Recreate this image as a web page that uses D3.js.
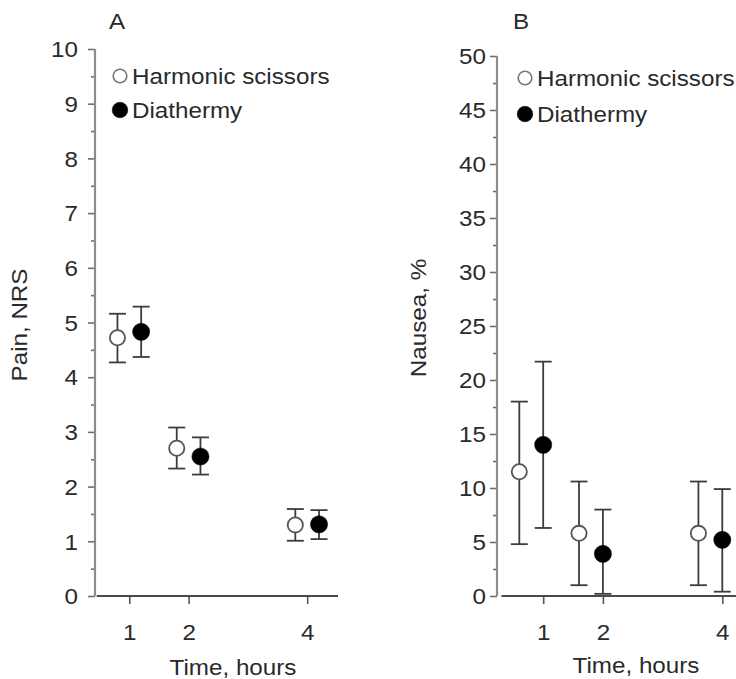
<!DOCTYPE html>
<html>
<head>
<meta charset="utf-8">
<script src="https://cdn.jsdelivr.net/npm/d3@7"></script>
<style>
  body { margin: 0; background: #fff; }
  text { font-family: "Liberation Sans", Arial, Helvetica, sans-serif; fill: #2a2a2a; }
</style>
</head>
<body>
<svg id="chart" width="736" height="679"></svg>
<script>
// ---- data ----
const hours = [1, 2, 4];
const seriesNames = ["Harmonic scissors", "Diathermy"];

// Pain, NRS (mean with lower / upper error limits)
const painHarmonic     = [4.72, 2.70, 1.30];
const painHarmonicLow  = [4.27, 2.33, 1.01];
const painHarmonicHigh = [5.16, 3.08, 1.59];
const painDiathermy     = [4.83, 2.55, 1.31];
const painDiathermyLow  = [4.37, 2.22, 1.04];
const painDiathermyHigh = [5.29, 2.90, 1.57];

// Nausea, % (mean with lower / upper error limits)
const nauseaHarmonic     = [11.5, 5.8, 5.8];
const nauseaHarmonicLow  = [4.8, 1.0, 1.0];
const nauseaHarmonicHigh = [18.0, 10.6, 10.6];
const nauseaDiathermy     = [14.0, 3.9, 5.2];
const nauseaDiathermyLow  = [6.3, 0.2, 0.4];
const nauseaDiathermyHigh = [21.7, 8.0, 9.9];

const painTicks = [0, 1, 2, 3, 4, 5, 6, 7, 8, 9, 10];
const painMinorTicks = [0.5, 1.5, 2.5, 3.5, 4.5, 5.5, 6.5, 7.5, 8.5, 9.5];
const nauseaTicks = [0, 5, 10, 15, 20, 25, 30, 35, 40, 45, 50];
const nauseaMinorTicks = [2.5, 7.5, 12.5, 17.5, 22.5, 27.5, 32.5, 37.5, 42.5, 47.5];
const hourTicks = hours;

// ---- drawing ----
const svg = d3.select("#chart");
const SX = 1.1;           // wide lettering
const FONT = 22;

function label(g, x, y, str, anchor, rotate) {
  return g.append("text")
    .attr("transform", `translate(${x},${y})${rotate ? " rotate(-90)" : ""} scale(${SX},1)`)
    .attr("text-anchor", anchor)
    .attr("dy", "0.35em")
    .style("font-size", FONT + "px")
    .text(str);
}

function panel(cfg) {
  const g = svg.append("g");
  const x = d3.scaleLinear().domain(cfg.xDomain).range(cfg.xRange);
  const y = d3.scaleLinear().domain(cfg.yDomain).range(cfg.yRange);

  // y axis: major ticks with labels
  const yAx = g.append("g").attr("transform", `translate(${cfg.axisX},0)`)
    .call(d3.axisLeft(y).tickValues(cfg.yTicks).tickSize(7).tickPadding(cfg.yPad)
      .tickFormat(d3.format("d")));
  yAx.select(".domain").remove();
  yAx.attr("font-family", null).attr("font-size", null);
  yAx.selectAll(".tick line").attr("stroke", "#6e6e6e").attr("stroke-width", 1.6);
  yAx.selectAll(".tick text")
    .attr("transform", `scale(${SX},1)`)
    .attr("dy", "0.35em")
    .style("font-size", FONT + "px")
    .attr("fill", null);

  // y axis: minor ticks
  const yMin = g.append("g").attr("transform", `translate(${cfg.axisX},0)`)
    .call(d3.axisLeft(y).tickValues(cfg.yMinor).tickSize(4).tickFormat(""));
  yMin.select(".domain").remove();
  yMin.selectAll(".tick line").attr("stroke", "#6e6e6e").attr("stroke-width", 1.6);

  g.append("line")
    .attr("x1", cfg.axisX).attr("x2", cfg.axisX)
    .attr("y1", y(cfg.yDomain[0])).attr("y2", y(cfg.yDomain[1]))
    .attr("stroke", "#8c8c8c").attr("stroke-width", 2.2);

  // x axis
  const base = y(cfg.yDomain[0]);
  const xAx = g.append("g").attr("transform", `translate(0,${base})`)
    .call(d3.axisBottom(x).tickValues(hourTicks).tickSize(8).tickFormat(d3.format("d")));
  xAx.select(".domain").remove();
  xAx.attr("font-family", null).attr("font-size", null);
  xAx.selectAll(".tick line").attr("stroke", "#555").attr("stroke-width", 1.6);
  xAx.selectAll(".tick text")
    .attr("y", 36).attr("dy", "0.35em")
    .attr("transform", `scale(${SX},1)`)
    .style("font-size", FONT + "px")
    .attr("fill", null);

  g.append("line")
    .attr("x1", x(cfg.xDomain[0])).attr("x2", x(cfg.xDomain[1]))
    .attr("y1", base).attr("y2", base)
    .attr("stroke", "#4a4a4a").attr("stroke-width", 2.2);

  // series: error bars then markers
  cfg.series.forEach((s, si) => {
    const pts = hours.map((h, i) => ({ h, m: s.mean[i], lo: s.low[i], hi: s.high[i] }));
    const sg = g.append("g");
    const cx = d => x(d.h + cfg.offsets[si]);
    const cap = 8.5;
    sg.selectAll("line.bar").data(pts).join("line")
      .attr("x1", cx).attr("x2", cx)
      .attr("y1", d => y(d.lo)).attr("y2", d => y(d.hi))
      .attr("stroke", "#3c3c3c").attr("stroke-width", 1.8);
    ["lo", "hi"].forEach(k => {
      sg.selectAll("line.cap" + k).data(pts).join("line")
        .attr("x1", d => cx(d) - cap).attr("x2", d => cx(d) + cap)
        .attr("y1", d => y(d[k])).attr("y2", d => y(d[k]))
        .attr("stroke", "#3c3c3c").attr("stroke-width", 1.8);
    });
    sg.selectAll("circle").data(pts).join("circle")
      .attr("cx", cx).attr("cy", d => y(d.m))
      .attr("r", si === 0 ? 7.6 : 8.6)
      .attr("fill", si === 0 ? "#fff" : "#000")
      .attr("stroke", si === 0 ? "#555" : "#000")
      .attr("stroke-width", si === 0 ? 1.8 : 0.5);
  });

  // legend
  seriesNames.forEach((name, i) => {
    const ly = cfg.legend[1] + i * cfg.legendGap;
    g.append("circle")
      .attr("cx", cfg.legend[0]).attr("cy", ly)
      .attr("r", i === 0 ? 6.8 : 7.8)
      .attr("fill", i === 0 ? "#fff" : "#000")
      .attr("stroke", i === 0 ? "#777" : "#000")
      .attr("stroke-width", i === 0 ? 1.6 : 0.5);
    label(g, cfg.legend[0] + 12, ly, name, "start", false);
  });

  // panel letter and axis titles
  label(g, cfg.letterPos[0], cfg.letterPos[1], cfg.letter, "middle", false);
  label(g, cfg.yTitlePos[0], cfg.yTitlePos[1], cfg.yTitle, "middle", true);
  label(g, cfg.xTitlePos[0], cfg.xTitlePos[1], "Time, hours", "middle", false);
}

panel({
  letter: "A", yTitle: "Pain, NRS",
  xDomain: [0.45, 4.52], xRange: [96.7, 338],
  yDomain: [0, 10], yRange: [596, 49],
  yTicks: painTicks, yMinor: painMinorTicks, yPad: 8.5,
  axisX: 95, offsets: [-0.2, 0.2],
  series: [
    { mean: painHarmonic, low: painHarmonicLow, high: painHarmonicHigh },
    { mean: painDiathermy, low: painDiathermyLow, high: painDiathermyHigh }
  ],
  legend: [120, 76], legendGap: 34,
  letterPos: [117, 21], yTitlePos: [19, 325], xTitlePos: [233, 667]
});

panel({
  letter: "B", yTitle: "Nausea, %",
  xDomain: [0.3, 4.3], xRange: [501.4, 740.2],
  yDomain: [0, 50], yRange: [596, 56],
  yTicks: nauseaTicks, yMinor: nauseaMinorTicks, yPad: 3,
  axisX: 497, offsets: [-0.4, 0],
  series: [
    { mean: nauseaHarmonic, low: nauseaHarmonicLow, high: nauseaHarmonicHigh },
    { mean: nauseaDiathermy, low: nauseaDiathermyLow, high: nauseaDiathermyHigh }
  ],
  legend: [525, 78], legendGap: 36,
  letterPos: [521, 21], yTitlePos: [418, 318], xTitlePos: [636, 665]
});
</script>
</body>
</html>
